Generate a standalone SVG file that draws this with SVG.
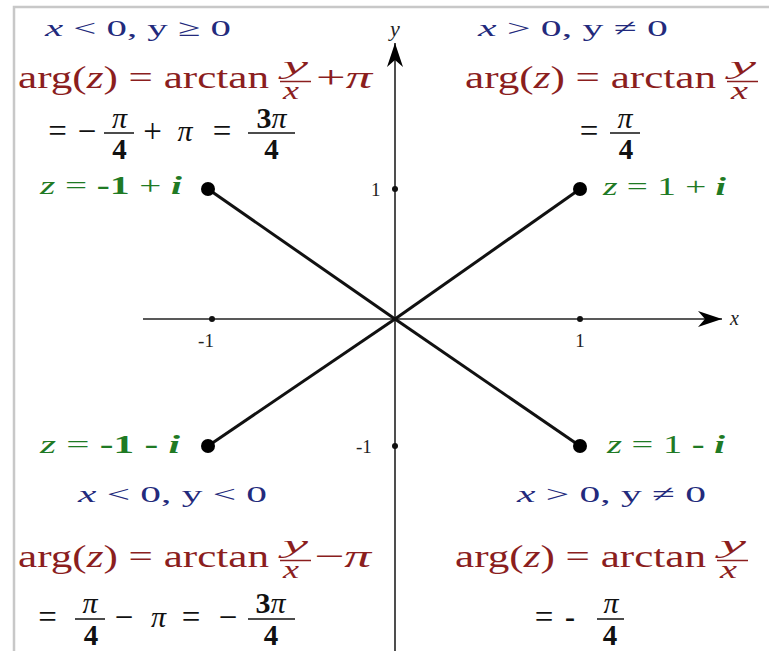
<svg xmlns="http://www.w3.org/2000/svg" width="769" height="651" viewBox="0 0 769 651">
<defs>
<style>
text{font-family:"Liberation Serif","Times New Roman",serif}
.blue{font-size:24px;fill:#232a7c}
.red{font-size:32px;fill:#8b1e1e}
.rfr{font-size:25px;fill:#8b1e1e;font-style:italic}
.blk{font-size:30px;fill:#111}
.op{font-size:33px;fill:#111}
.den{font-size:29px;fill:#111;font-weight:bold}
.grn{font-size:26px;fill:#1f7a24}
.it{font-style:italic}
.bi{font-style:italic;font-weight:bold}
.tick{font-size:19px;fill:#222}
.fr-r{stroke:#8b1e1e;stroke-width:1.5}
.fr-k{stroke:#111;stroke-width:1.5}
.m{text-anchor:middle}
.conn{stroke:#111;stroke-width:3;fill:none}
.axis{stroke:#222;stroke-width:1.6;fill:none}
.dot{fill:#000}
.tdot{fill:#111}
</style>
<marker id="arr" viewBox="-24 -9 26 18" refX="0" refY="0" markerWidth="26" markerHeight="18" markerUnits="userSpaceOnUse" orient="auto">
<path d="M0,0 L-24,-8 L-17,0 L-24,8 Z" fill="#000"/>
</marker>
</defs>
<rect width="769" height="651" fill="#fff"/>
<path d="M14,651 L14,7 L769,7" fill="none" stroke="#c8c8c8" stroke-width="2.5"/>

<g id="axes">
<line class="axis" x1="143" y1="319" x2="722" y2="319" marker-end="url(#arr)"/>
<line class="axis" x1="395" y1="651" x2="395" y2="43" marker-end="url(#arr)"/>
<text x="730" y="325" font-size="20" class="it" fill="#222">x</text>
<text x="390" y="36" font-size="22" class="it" fill="#222">y</text>
<circle class="tdot" cx="212" cy="319" r="3"/>
<circle class="tdot" cx="580" cy="319" r="3"/>
<circle class="tdot" cx="395" cy="189" r="3"/>
<circle class="tdot" cx="395" cy="446" r="3"/>
<text class="tick m" x="206" y="347">-1</text>
<text class="tick m" x="580" y="347">1</text>
<text class="tick" x="371" y="196">1</text>
<text class="tick" x="356" y="453">-1</text>
</g>

<g id="connectors">
<line class="conn" x1="208" y1="189" x2="395" y2="319"/>
<line class="conn" x1="580" y1="189" x2="395" y2="319"/>
<line class="conn" x1="208" y1="446" x2="395" y2="319"/>
<line class="conn" x1="580" y1="446" x2="395" y2="319"/>
</g>

<g id="point-m1p1">
<circle class="dot" cx="208" cy="189" r="7"/>
<text class="grn" x="40" y="194" textLength="142" lengthAdjust="spacingAndGlyphs"><tspan class="it">z</tspan> = <tspan font-weight="bold">-1</tspan> + <tspan class="bi">i</tspan></text>
</g>
<g id="point-p1p1">
<circle class="dot" cx="580" cy="189" r="7"/>
<text class="grn" x="603" y="195" textLength="123" lengthAdjust="spacingAndGlyphs"><tspan class="it">z</tspan> = 1 + <tspan class="bi">i</tspan></text>
</g>
<g id="point-m1m1">
<circle class="dot" cx="208" cy="446" r="7"/>
<text class="grn" x="40" y="453" textLength="140" lengthAdjust="spacingAndGlyphs"><tspan class="it">z</tspan> = <tspan font-weight="bold">-1 -</tspan> <tspan class="bi">i</tspan></text>
</g>
<g id="point-p1m1">
<circle class="dot" cx="580" cy="446" r="7"/>
<text class="grn" x="607" y="453" textLength="118" lengthAdjust="spacingAndGlyphs"><tspan class="it">z</tspan> = 1 <tspan font-weight="bold">-</tspan> <tspan class="bi">i</tspan></text>
</g>

<g id="quadrant-2">
<text class="blue" x="45" y="36" textLength="186" lengthAdjust="spacingAndGlyphs"><tspan class="it">x</tspan> &lt; 0, y ≥ 0</text>
<text class="red" x="18" y="88" textLength="251" lengthAdjust="spacingAndGlyphs">arg(<tspan class="it">z</tspan>) = arctan</text>
<text class="rfr" x="283" y="74" textLength="25" lengthAdjust="spacingAndGlyphs">y</text>
<line class="fr-r" x1="280" y1="81.5" x2="311" y2="81.5"/>
<text class="rfr" x="283" y="99" textLength="16" lengthAdjust="spacingAndGlyphs">x</text>
<text class="red" x="316" y="88" textLength="56" lengthAdjust="spacingAndGlyphs">+<tspan class="it">π</tspan></text>
<text class="op m" x="57.5" y="142">=</text>
<text class="op m" x="87" y="142">−</text>
<text class="blk m it" x="119.5" y="128">π</text>
<line class="fr-k" x1="104" y1="133" x2="134" y2="133"/>
<text class="den m" x="119.5" y="159">4</text>
<text class="op m" x="152.5" y="142">+</text>
<text class="blk m it" x="185" y="141">π</text>
<text class="op m" x="222" y="142">=</text>
<text class="blk m" x="271.5" y="128"><tspan font-weight="bold">3</tspan><tspan class="it">π</tspan></text>
<line class="fr-k" x1="248" y1="133" x2="295" y2="133"/>
<text class="den m" x="271.5" y="159">4</text>
</g>

<g id="quadrant-1">
<text class="blue" x="478" y="36" textLength="190" lengthAdjust="spacingAndGlyphs"><tspan class="it">x</tspan> &gt; 0, y ≠ 0</text>
<text class="red" x="465" y="88" textLength="251" lengthAdjust="spacingAndGlyphs">arg(<tspan class="it">z</tspan>) = arctan</text>
<text class="rfr" x="730" y="74" textLength="26" lengthAdjust="spacingAndGlyphs">y</text>
<line class="fr-r" x1="727" y1="81.5" x2="758" y2="81.5"/>
<text class="rfr" x="731" y="99" textLength="17" lengthAdjust="spacingAndGlyphs">x</text>
<text class="op m" x="589" y="142">=</text>
<text class="blk m it" x="625" y="128">π</text>
<line class="fr-k" x1="610" y1="133" x2="640" y2="133"/>
<text class="den m" x="626" y="159">4</text>
</g>

<g id="quadrant-3">
<text class="blue" x="78" y="502" textLength="189" lengthAdjust="spacingAndGlyphs"><tspan class="it">x</tspan> &lt; 0, y &lt; 0</text>
<text class="red" x="18" y="567" textLength="251" lengthAdjust="spacingAndGlyphs">arg(<tspan class="it">z</tspan>) = arctan</text>
<text class="rfr" x="283" y="553" textLength="25" lengthAdjust="spacingAndGlyphs">y</text>
<line class="fr-r" x1="280" y1="560.5" x2="311" y2="560.5"/>
<text class="rfr" x="283" y="578" textLength="16" lengthAdjust="spacingAndGlyphs">x</text>
<text class="red" x="314" y="567" textLength="57" lengthAdjust="spacingAndGlyphs">−<tspan class="it">π</tspan></text>
<text class="op m" x="47.5" y="628">=</text>
<text class="blk m it" x="90" y="613">π</text>
<line class="fr-k" x1="75" y1="619" x2="105" y2="619"/>
<text class="den m" x="91" y="645">4</text>
<text class="op m" x="124" y="628">−</text>
<text class="blk m it" x="158.5" y="627">π</text>
<text class="op m" x="191" y="628">=</text>
<text class="op m" x="228" y="628">−</text>
<text class="blk m" x="270.5" y="613"><tspan font-weight="bold">3</tspan><tspan class="it">π</tspan></text>
<line class="fr-k" x1="248" y1="619" x2="295" y2="619"/>
<text class="den m" x="271" y="645">4</text>
</g>

<g id="quadrant-4">
<text class="blue" x="517" y="502" textLength="189" lengthAdjust="spacingAndGlyphs"><tspan class="it">x</tspan> &gt; 0, y ≠ 0</text>
<text class="red" x="455" y="567" textLength="251" lengthAdjust="spacingAndGlyphs">arg(<tspan class="it">z</tspan>) = arctan</text>
<text class="rfr" x="720" y="553" textLength="26" lengthAdjust="spacingAndGlyphs">y</text>
<line class="fr-r" x1="717" y1="560.5" x2="748" y2="560.5"/>
<text class="rfr" x="720" y="578" textLength="17" lengthAdjust="spacingAndGlyphs">x</text>
<text class="op m" x="544" y="628">=</text>
<text class="blk m" x="570" y="627" font-weight="bold">-</text>
<text class="blk m it" x="611" y="613">π</text>
<line class="fr-k" x1="597" y1="619" x2="624" y2="619"/>
<text class="den m" x="610" y="645">4</text>
</g>
</svg>
